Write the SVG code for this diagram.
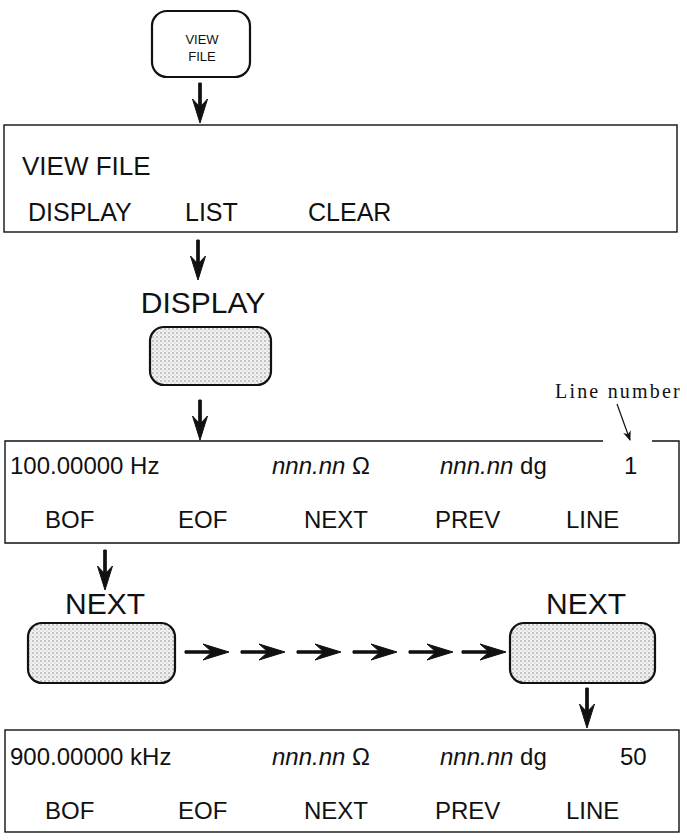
<svg xmlns="http://www.w3.org/2000/svg" width="687" height="840" viewBox="0 0 687 840">
<style>
.t{font-family:"Liberation Sans",Arial,sans-serif;fill:#111}
.row{font-size:24px}
.it{font-style:italic}
.box{fill:none;stroke:#111;stroke-width:1.4}
.key{fill:#fff;stroke:#111;stroke-width:2.2}
.skey{fill:url(#dots);stroke:#111;stroke-width:2.2}
.arr{fill:#111;stroke:#111;stroke-width:1}
</style>
<defs>
<pattern id="dots" width="4" height="4" patternUnits="userSpaceOnUse">
<rect width="4" height="4" fill="#f1f1f1"/>
<circle cx="1" cy="1" r="0.8" fill="#8a8a8a"/>
<circle cx="3" cy="3" r="0.6" fill="#b5b5b5"/>
</pattern>
<path id="dn" d="M-1.3,-40 H1.3 V-14 H-1.3 Z M0,0 L-7.5,-24 L0,-16 L7.5,-24 Z"/>
<path id="rt" d="M-44,-1.2 V1.2 H-16 V-1.2 Z M0,0 L-26,-8 L-17,0 L-26,8 Z"/>
<marker id="sm" markerWidth="10" markerHeight="10" refX="9" refY="5" orient="auto" markerUnits="userSpaceOnUse">
<path d="M0,1 L10,5 L0,9 L3,5 Z" fill="#111"/>
</marker>
</defs>

<g id="key-viewfile">
<rect class="key" x="152" y="11" width="98" height="66" rx="15"/>
<text class="t" x="202" y="44" font-size="13" text-anchor="middle">VIEW</text>
<text class="t" x="202" y="61" font-size="13" text-anchor="middle">FILE</text>
</g>

<g id="screen-viewfile">
<rect class="box" x="4" y="125" width="673" height="107"/>
<text class="t" x="22" y="175" font-size="26">VIEW FILE</text>
<text class="t" x="28" y="221" font-size="25">DISPLAY</text>
<text class="t" x="185" y="221" font-size="25">LIST</text>
<text class="t" x="308" y="221" font-size="25">CLEAR</text>
</g>

<g id="key-display">
<text class="t" x="203" y="313" font-size="30" text-anchor="middle">DISPLAY</text>
<rect class="skey" x="150" y="327" width="121" height="58" rx="14"/>
</g>

<g id="label-linenumber">
<text x="555" y="398" font-family="'Liberation Serif',serif" font-size="20" letter-spacing="2.2" fill="#111">Line number</text>
</g>

<g id="screen-line1">
<path class="box" d="M603,441 H5 V543 H679 V441 H652"/>
<text class="t row" x="10" y="474">100.00000 Hz</text>
<text class="t row" x="272" y="474"><tspan class="it">nnn.nn</tspan> Ω</text>
<text class="t row" x="440" y="474"><tspan class="it">nnn.nn</tspan> dg</text>
<text class="t row" x="624" y="474">1</text>
<text class="t row" x="45" y="528">BOF</text>
<text class="t row" x="178" y="528">EOF</text>
<text class="t row" x="304" y="528">NEXT</text>
<text class="t row" x="435" y="528">PREV</text>
<text class="t row" x="566" y="528">LINE</text>
</g>

<g id="key-next-1">
<text class="t" x="105" y="614" font-size="30" text-anchor="middle">NEXT</text>
<rect class="skey" x="28" y="623" width="147" height="60" rx="14"/>
</g>

<g id="key-next-2">
<text class="t" x="586" y="614" font-size="30" text-anchor="middle">NEXT</text>
<rect class="skey" x="510" y="623" width="145" height="60" rx="14"/>
</g>

<g id="screen-line50">
<rect class="box" x="5" y="730" width="674" height="102"/>
<text class="t row" x="10" y="765">900.00000 kHz</text>
<text class="t row" x="272" y="765"><tspan class="it">nnn.nn</tspan> Ω</text>
<text class="t row" x="440" y="765"><tspan class="it">nnn.nn</tspan> dg</text>
<text class="t row" x="620" y="765">50</text>
<text class="t row" x="45" y="819">BOF</text>
<text class="t row" x="178" y="819">EOF</text>
<text class="t row" x="304" y="819">NEXT</text>
<text class="t row" x="435" y="819">PREV</text>
<text class="t row" x="566" y="819">LINE</text>
</g>

<g id="connectors">
<use href="#dn" class="arr" transform="translate(200,123)"/>
<use href="#dn" class="arr" transform="translate(198,280)"/>
<use href="#dn" class="arr" transform="translate(200,440)"/>
<use href="#dn" class="arr" transform="translate(105,590)"/>
<use href="#dn" class="arr" transform="translate(587,728)"/>
<use href="#rt" class="arr" transform="translate(229,652)"/>
<use href="#rt" class="arr" transform="translate(285,652)"/>
<use href="#rt" class="arr" transform="translate(341,652)"/>
<use href="#rt" class="arr" transform="translate(397,652)"/>
<use href="#rt" class="arr" transform="translate(453,652)"/>
<use href="#rt" class="arr" transform="translate(506,652)"/>
<line x1="617" y1="404" x2="630" y2="440" stroke="#111" stroke-width="1.2" marker-end="url(#sm)"/>
</g>
</svg>
